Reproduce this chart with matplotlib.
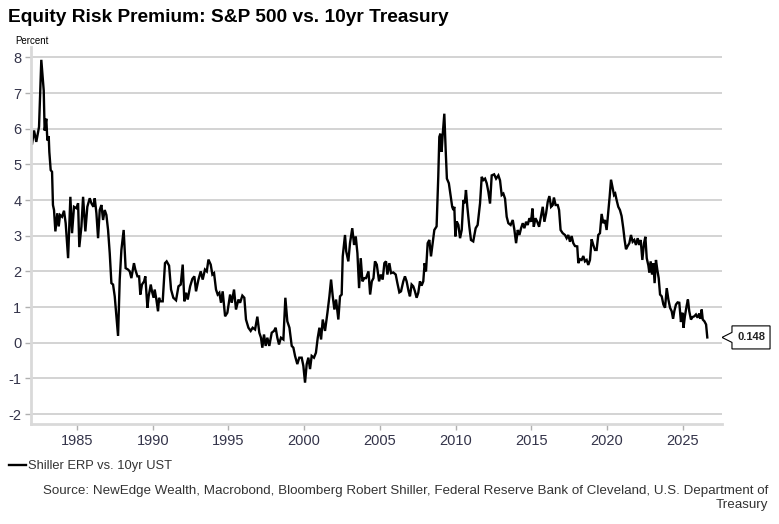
import matplotlib
matplotlib.use("Agg")
import matplotlib.pyplot as plt
import matplotlib.transforms as mtransforms
from matplotlib.patches import Polygon
import numpy as np

plt.rcParams["font.family"] = ["Liberation Sans", "DejaVu Sans"]
plt.rcParams["axes.unicode_minus"] = False

# Shiller ERP vs 10yr UST (decimal year, percent)
yrs_a = [1982.03, 1982.16, 1982.31, 1982.49, 1982.64, 1982.80, 1982.86, 1982.97,
         1983.04, 1983.13, 1983.17, 1983.26, 1983.35, 1983.41, 1983.48, 1983.57, 1983.70, 1983.79, 1983.88,
         1984.01, 1984.14, 1984.25, 1984.41, 1984.56, 1984.67, 1984.80, 1984.96,
         1985.07, 1985.15, 1985.29, 1985.40, 1985.55, 1985.68, 1985.84, 1985.95,
         1986.08, 1986.17, 1986.28, 1986.39, 1986.50, 1986.61, 1986.72, 1986.83, 1986.94,
         1987.05, 1987.16, 1987.27, 1987.38, 1987.49, 1987.60, 1987.71, 1987.82, 1987.93,
         1988.08, 1988.21, 1988.37, 1988.48, 1988.59, 1988.76, 1988.85, 1988.99,
         1989.10, 1989.18, 1989.29, 1989.43, 1989.51, 1989.65, 1989.73, 1989.87, 1989.95,
         1990.06, 1990.13, 1990.24, 1990.35, 1990.42]
erp_a = [5.58, 5.95, 5.63, 6.05, 7.93, 7.07, 5.95, 6.28,
         5.67, 5.79, 5.35, 4.84, 4.79, 3.86, 3.72, 3.12, 3.63, 3.26, 3.58,
         3.53, 3.70, 3.35, 2.37, 4.09, 3.07, 3.81, 3.77,
         3.91, 2.68, 3.26, 4.09, 3.12, 3.81, 4.05, 3.91,
         3.81, 4.05, 3.63, 2.93, 3.72, 3.86, 3.44, 3.72, 3.58,
         3.16, 2.51, 1.67, 1.63, 1.30, 0.74, 0.19, 1.77, 2.60,
         3.16, 2.09, 2.05, 2.00, 1.81, 2.23, 2.05, 1.86,
         1.86, 1.35, 1.63, 1.72, 1.86, 0.98, 1.30, 1.63, 1.44,
         1.26, 1.49, 1.21, 0.88, 1.26]

yrs_b = [1990.48, 1990.66, 1990.81, 1990.92, 1991.08, 1991.21, 1991.36, 1991.54, 1991.70, 1991.85,
         1991.98, 1992.09, 1992.20, 1992.31, 1992.47, 1992.62, 1992.75, 1992.86, 1993.02, 1993.17,
         1993.30, 1993.45, 1993.57, 1993.68, 1993.83, 1993.94, 1994.05, 1994.18, 1994.29, 1994.40,
         1994.51, 1994.62, 1994.78, 1994.93, 1995.11, 1995.22, 1995.37, 1995.50, 1995.66, 1995.77,
         1995.92, 1996.05, 1996.16, 1996.32, 1996.47, 1996.60, 1996.76, 1996.91, 1997.04, 1997.15,
         1997.24, 1997.35, 1997.46, 1997.57, 1997.70, 1997.86, 1998.01, 1998.12, 1998.23, 1998.34,
         1998.47, 1998.63, 1998.76, 1998.89, 1999.03, 1999.18, 1999.29, 1999.40, 1999.55, 1999.68,
         1999.84, 1999.95, 2000.06, 2000.17, 2000.28, 2000.39, 2000.50, 2000.65, 2000.78, 2000.90,
         2001.01, 2001.12, 2001.23, 2001.38, 2001.54, 2001.67, 2001.78, 2001.89, 2002.00, 2002.11,
         2002.26, 2002.37, 2002.48]
erp_b = [1.16, 1.16, 2.23, 2.28, 2.16, 1.49, 1.26, 1.19, 1.58, 1.63,
         2.19, 1.16, 1.40, 1.21, 1.58, 1.79, 1.86, 1.44, 1.77, 2.00,
         1.77, 2.05, 2.00, 2.33, 2.19, 1.91, 1.95, 1.49, 1.35, 1.40,
         1.12, 1.44, 0.74, 0.84, 1.35, 1.12, 1.49, 0.93, 1.21, 1.12,
         1.32, 1.26, 0.65, 0.42, 0.33, 0.42, 0.37, 0.73, 0.28, 0.14,
         -0.14, 0.23, -0.09, 0.14, -0.09, 0.28, 0.33, 0.42, 0.14, -0.05,
         0.14, 0.09, 1.26, 0.60, 0.42, -0.09, -0.14, -0.37, -0.60, -0.42,
         -0.42, -0.65, -1.12, -0.60, -0.42, -0.74, -0.37, -0.42, -0.28, 0.14,
         0.42, 0.09, 0.65, 0.33, 0.84, 1.30, 1.77, 1.30, 0.93, 1.21,
         0.65, 1.30, 1.35]

yrs_c = [2002.55, 2002.70, 2002.78, 2002.92, 2003.03, 2003.18, 2003.30, 2003.41, 2003.52, 2003.63,
         2003.74, 2003.85, 2003.98, 2004.09, 2004.25, 2004.36, 2004.47, 2004.58, 2004.68, 2004.80,
         2004.95, 2005.06, 2005.19, 2005.30, 2005.41, 2005.50, 2005.63, 2005.74, 2005.89, 2006.05,
         2006.16, 2006.29, 2006.40, 2006.55, 2006.66, 2006.77, 2006.90, 2006.99, 2007.10, 2007.21,
         2007.32, 2007.43, 2007.54, 2007.65, 2007.76, 2007.87, 2007.96, 2008.05, 2008.16, 2008.27,
         2008.38, 2008.49, 2008.60, 2008.75, 2008.86, 2008.93, 2009.00, 2009.08, 2009.15, 2009.26,
         2009.35, 2009.43, 2009.56, 2009.67, 2009.78, 2009.86, 2009.92, 2009.99, 2010.08, 2010.19,
         2010.30, 2010.41, 2010.52, 2010.61, 2010.69, 2010.78, 2010.91, 2011.02, 2011.17, 2011.33,
         2011.46, 2011.62, 2011.73, 2011.84, 2011.95, 2012.06, 2012.17]
erp_c = [2.42, 3.02, 2.56, 2.28, 2.79, 3.21, 2.74, 2.98, 2.51, 1.53,
         2.37, 1.72, 1.81, 1.81, 2.00, 1.35, 1.72, 1.81, 2.28, 2.19,
         1.72, 1.91, 1.77, 2.23, 2.28, 1.91, 2.23, 1.95, 1.97, 1.91,
         1.67, 1.41, 1.44, 1.72, 1.86, 1.72, 1.44, 1.30, 1.63, 1.58,
         1.44, 1.26, 1.40, 1.72, 1.60, 1.72, 2.23, 2.00, 2.79, 2.88,
         2.42, 2.79, 3.16, 3.26, 4.65, 5.77, 5.86, 5.35, 5.81, 6.42,
         5.40, 4.60, 4.47, 4.14, 3.81, 3.72, 3.81, 2.98, 3.40, 3.30,
         2.93, 3.16, 4.00, 3.91, 4.28, 3.81, 3.26, 2.88, 2.84, 3.21,
         3.30, 3.91, 4.65, 4.56, 4.60, 4.47, 4.23]

yrs_d = [2012.28, 2012.39, 2012.55, 2012.68, 2012.83, 2012.94, 2013.05, 2013.16, 2013.27, 2013.38,
         2013.49, 2013.64, 2013.78, 2013.89, 2014.00, 2014.11, 2014.22, 2014.33, 2014.44, 2014.55,
         2014.66, 2014.77, 2014.88, 2014.99, 2015.08, 2015.17, 2015.28, 2015.40, 2015.52, 2015.62,
         2015.76, 2015.87, 2015.98, 2016.09, 2016.20, 2016.31, 2016.42, 2016.50, 2016.61, 2016.75,
         2016.84, 2016.94, 2017.08, 2017.23, 2017.34, 2017.45, 2017.56, 2017.67, 2017.78, 2017.89,
         2018.04, 2018.11, 2018.22, 2018.33, 2018.44, 2018.55, 2018.66, 2018.77, 2018.88, 2018.99,
         2019.10, 2019.21, 2019.32, 2019.43, 2019.54, 2019.65, 2019.76, 2019.87, 2019.98, 2020.09,
         2020.18, 2020.27, 2020.36, 2020.47, 2020.55, 2020.64, 2020.75, 2020.86, 2020.97, 2021.08,
         2021.17, 2021.26, 2021.37, 2021.48, 2021.59, 2021.70, 2021.81, 2021.92, 2022.03, 2022.14,
         2022.23, 2022.34, 2022.45, 2022.54, 2022.63, 2022.74, 2022.80, 2022.89, 2022.98, 2023.07,
         2023.15, 2023.24, 2023.33, 2023.42, 2023.51, 2023.62, 2023.73, 2023.84, 2023.95, 2024.06,
         2024.17, 2024.28, 2024.37, 2024.45, 2024.56, 2024.67, 2024.78, 2024.89, 2024.99, 2025.06,
         2025.15, 2025.26, 2025.35, 2025.44, 2025.55, 2025.66, 2025.77, 2025.88, 2025.99, 2026.10,
         2026.19, 2026.26, 2026.33, 2026.44, 2026.55, 2026.63]
erp_d = [3.90, 4.69, 4.72, 4.60, 4.69, 4.55, 4.14, 4.18, 4.04, 3.53,
         3.35, 3.30, 3.44, 3.16, 2.79, 3.16, 3.02, 3.21, 3.35, 3.21,
         3.39, 3.30, 3.49, 3.39, 3.76, 3.25, 3.49, 3.39, 3.25, 3.49,
         3.81, 3.39, 3.62, 3.95, 4.11, 3.81, 3.86, 4.07, 3.86, 3.86,
         3.72, 3.16, 3.07, 3.02, 2.93, 3.02, 2.83, 2.99, 2.79, 2.71,
         2.70, 2.23, 2.34, 2.32, 2.43, 2.28, 2.32, 2.18, 2.32, 2.90,
         2.74, 2.60, 2.60, 3.02, 3.07, 3.61, 3.35, 3.44, 3.16, 3.67,
         4.09, 4.57, 4.37, 4.14, 4.18, 4.00, 3.81, 3.72, 3.55, 3.21,
         2.88, 2.62, 2.71, 2.79, 3.02, 2.83, 2.88, 2.74, 2.93, 2.74,
         2.88, 2.32, 2.79, 2.97, 2.37, 2.16, 1.97, 2.28, 1.91, 2.23,
         1.67, 2.32, 2.04, 1.81, 1.35, 1.30, 1.07, 0.98, 1.53, 1.21,
         0.98, 0.88, 0.67, 0.88, 1.07, 1.13, 1.12, 0.58, 0.84, 0.42,
         0.74, 1.02, 1.21, 0.88, 0.65, 0.72, 0.74, 0.79, 0.70, 0.82,
         0.67, 0.93, 0.65, 0.60, 0.51, 0.148]

years = np.array(yrs_a + yrs_b + yrs_c + yrs_d)
erp = np.array(erp_a + erp_b + erp_c + erp_d)

title = "Equity Risk Premium: S&P 500 vs. 10yr Treasury"
series_name = "Shiller ERP vs. 10yr UST"
source = ("Source: NewEdge Wealth, Macrobond, Bloomberg Robert Shiller, Federal Reserve Bank of Cleveland, U.S. Department of\n"
          "Treasury")
x_ticks = [1985, 1990, 1995, 2000, 2005, 2010, 2015, 2020, 2025]
y_ticks = [-2, -1, 0, 1, 2, 3, 4, 5, 6, 7, 8]

fig = plt.figure(figsize=(7.79, 5.24), dpi=100)
ax = fig.add_axes([0.0398, 0.1908, 0.8870, 0.7195])

line, = ax.plot(years, erp, color="black", lw=1.7, label=series_name, solid_joinstyle="miter")

ax.set_xlim(1981.96, 2027.6)
ax.set_ylim(-2.28, 8.29)
ax.set_xticks(x_ticks)
ax.set_yticks(y_ticks)
ax.grid(True, axis="y", color="#c8c8c8", lw=1.1)
ax.set_axisbelow(True)
for s in ["top", "right"]:
    ax.spines[s].set_visible(False)
for s in ["left", "bottom"]:
    ax.spines[s].set_color("#d9d9d9")
    ax.spines[s].set_linewidth(2)
ax.tick_params(axis="both", length=4, width=1, color="#b0b0b0", labelsize=10.5,
               labelcolor="#34344a", pad=3)

fig.text(8 / 779, 1 - 18 / 524, title, fontsize=13.8, fontweight="bold", va="center", ha="left")
fig.text(15 / 779, 1 - 41 / 524, "Percent", fontsize=7, va="center", ha="left")

# end-value callout (drawn under the axes so the label text stays on top)
last = erp[-1]
trans = mtransforms.Affine2D().scale(fig.dpi / 72) + \
    mtransforms.ScaledTranslation(1, last, ax.get_yaxis_transform())
callout = Polygon([(0, 0), (7.2, 3.6), (7.2, 8.3), (34.6, 8.3), (34.6, -8.3), (7.2, -8.3), (7.2, -3.6)],
                  closed=True, facecolor="white", edgecolor="black", lw=0.8,
                  transform=trans, clip_on=False, zorder=-1)
fig.add_artist(callout)
ax.annotate(f"{last:.3f}", xy=(1, last), xycoords=ax.get_yaxis_transform(),
            xytext=(21, 0), textcoords="offset points", ha="center", va="center",
            fontsize=8, fontweight="bold", color="#222222", annotation_clip=False)

fig.legend(handles=[line], loc="center left", bbox_to_anchor=(4 / 779, 1 - 466 / 524),
           frameon=False, fontsize=9.3, handlelength=1.3, handletextpad=0.15,
           labelcolor="#333333", borderaxespad=0)
fig.text(768 / 779, 1 - 498 / 524, source, fontsize=9.6, ha="right", va="center",
         multialignment="right", color="#333333", linespacing=1.2)

fig.savefig("out.png", dpi=100)
